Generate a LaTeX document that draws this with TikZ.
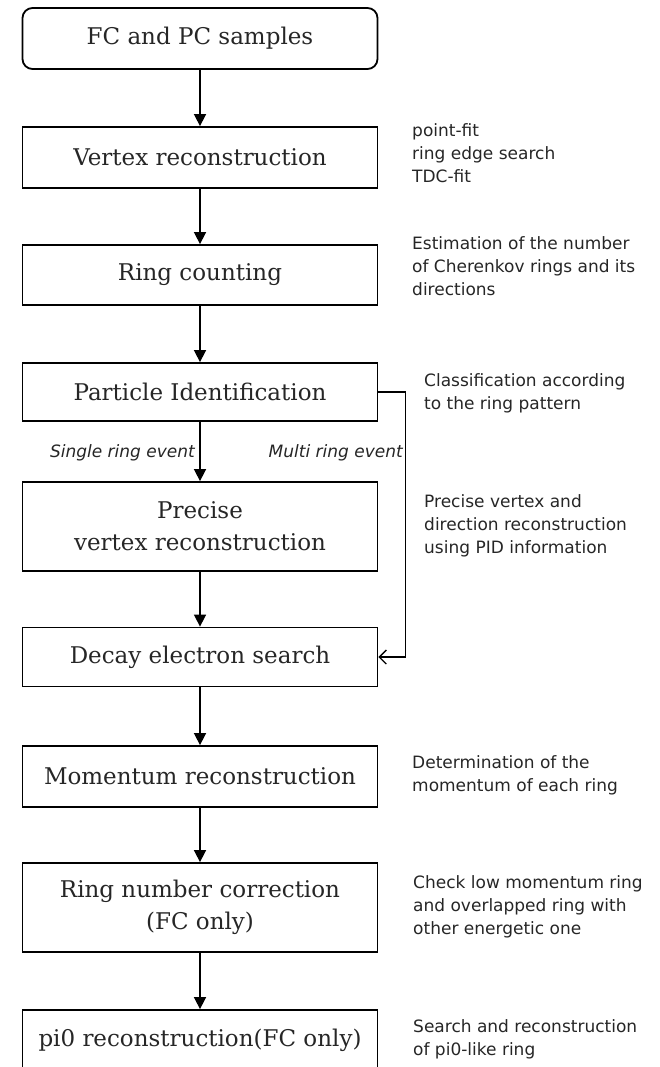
\documentclass[tikz,border=0pt]{standalone}
\usepackage{fontspec}
\setmainfont{DejaVu Serif}
\newfontfamily\notefont{DejaVu Sans}
\usetikzlibrary{arrows.meta}
\begin{document}
\begin{tikzpicture}[x=1pt,y=1pt,
 box/.style={draw, line width=1.8pt, minimum width=355pt, align=center, font=\fontsize{23}{32}\selectfont, inner sep=0pt, text=black!85},
 arr/.style={line width=1.6pt, -{Triangle[length=12pt,width=12pt]}},
 side/.style={line width=1.3pt, -{Straight Barb[length=7pt,width=14pt,line width=1.3pt]}},
 note/.style={anchor=base west, align=left, font=\notefont\fontsize{17}{23}\selectfont, inner sep=0pt, text=black!85},
 lab/.style={anchor=base east, font=\notefont\itshape\fontsize{17}{20}\selectfont, inner sep=0pt, text=black!85}]
\useasboundingbox (0,0) rectangle (660,-1067);
\node[box, rounded corners=10pt, minimum height=61pt] (fc) at (200,-38.5) {FC and PC samples};
\node[box, minimum height=61pt] (vr) at (200,-157.5) {Vertex reconstruction};
\node[box, minimum height=60pt] (rc) at (200,-275) {Ring counting};
\node[box, minimum height=58pt] (pid) at (200,-392) {Particle Identification};
\node[box, minimum height=89pt] (pvr) at (200,-526.5) {Precise\\vertex reconstruction};
\node[box, minimum height=59pt] (dec) at (200,-657) {Decay electron search};
\node[box, minimum height=61pt] (mom) at (200,-776.5) {Momentum reconstruction};
\node[box, minimum height=89pt] (rnc) at (200,-907.5) {Ring number correction\\(FC only)};
\node[box, minimum height=61pt] (pi0) at (200,-1040.5) {pi0 reconstruction(FC only)};

\draw[arr] (fc) -- (vr);
\draw[arr] (vr) -- (rc);
\draw[arr] (rc) -- (pid);
\draw[arr] (pid) -- (pvr);
\draw[arr] (pvr) -- (dec);
\draw[arr] (dec) -- (mom);
\draw[arr] (mom) -- (rnc);
\draw[arr] (rnc) -- (pi0);
\draw[side] (pid.east) -- ++(27,0) |- (dec.east);

\node[lab] (sre) at (195,-457) {Single ring event};
\node[lab] (mre) at (403,-457) {Multi ring event};

\node[note] (n1) at (412,-183) {point-fit\\ring edge search\\TDC-fit};
\node[note] (n2) at (412,-295) {Estimation of the number\\of Cherenkov rings and its\\directions};
\node[note] (n3) at (424,-409) {Classification according\\to the ring pattern};
\node[note] (n4) at (424,-553) {Precise vertex and\\direction reconstruction\\using PID information};
\node[note] (n5) at (412,-791) {Determination of the\\momentum of each ring};
\node[note] (n6) at (413,-934) {Check low momentum ring\\and overlapped ring with\\other energetic one};
\node[note] (n7) at (413,-1055) {Search and reconstruction\\of pi0-like ring};
\end{tikzpicture}
\end{document}
